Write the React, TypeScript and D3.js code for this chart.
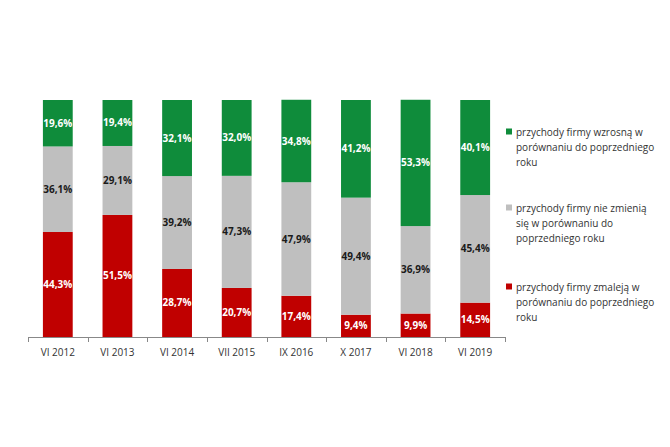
import React from "react";
import * as d3 from "d3";

const categories = ["VI 2012", "VI 2013", "VI 2014", "VII 2015", "IX 2016", "X 2017", "VI 2018", "VI 2019"];
const decrease = [44.3, 51.5, 28.7, 20.7, 17.4, 9.4, 9.9, 14.5];
const noChange = [36.1, 29.1, 39.2, 47.3, 47.9, 49.4, 36.9, 45.4];
const increase = [19.6, 19.4, 32.1, 32.0, 34.8, 41.2, 53.3, 40.1];

const seriesNames = [
  ["przychody firmy wzrosną w", "porównaniu do poprzedniego", "roku"],
  ["przychody firmy nie zmienią", "się w porównaniu do", "poprzedniego roku"],
  ["przychody firmy zmaleją w", "porównaniu do poprzedniego", "roku"],
];
const colors = { inc: "#0f8c3b", same: "#bfbfbf", dec: "#c00000" };

const fmt = (v: number) => v.toFixed(1).replace(".", ",") + "%";

export default function App() {
  const W = 670, H = 447;
  const x = d3.scaleBand().domain(categories).range([28, 505]).paddingInner(0.5).paddingOuter(0.25);
  const y = d3.scaleLinear().domain([0, 100]).range([337, 100]);
  const rows = categories.map((c, i) => ({ c, dec: decrease[i], same: noChange[i], inc: increase[i] }));
  const stack = d3.stack<any>().keys(["dec", "same", "inc"])(rows);
  const step = x.step();
  const font = "'Open Sans', 'Liberation Sans', sans-serif";
  const legendY = [132, 208, 287];
  const legendColors = [colors.inc, colors.same, colors.dec];
  return (
    <svg width={W} height={H} style={{ position: "absolute", left: 0, top: 0 }} fontFamily={font}>
      <rect width={W} height={H} fill="#fff" />
      {stack.map((s) => (
        <g key={s.key}>
          {s.map((d, i) => {
            const y0 = y(d[0]), y1 = y(d[1]);
            const v = d[1] - d[0];
            const xx = x(categories[i])!;
            return (
              <g key={i}>
                <rect x={xx} y={y1} width={x.bandwidth()} height={y0 - y1} fill={(colors as any)[s.key]} />
                <text x={xx + x.bandwidth() / 2} y={(y0 + y1) / 2} dy="0.35em" textAnchor="middle"
                  fontSize={10} fontWeight="bold" fill={s.key === "same" ? "#1a1a1a" : "#fff"}>
                  {fmt(v)}
                </text>
              </g>
            );
          })}
        </g>
      ))}
      <line x1={28} x2={505} y1={337.5} y2={337.5} stroke="#888" />
      {d3.range(categories.length + 1).map((i) => {
        const tx = Math.round(28 + i * step) + 0.5;
        return <line key={i} x1={tx} x2={tx} y1={337} y2={342} stroke="#888" />;
      })}
      {categories.map((c) => (
        <text key={c} x={x(c)! + x.bandwidth() / 2} y={352} dy="0.35em" textAnchor="middle" fontSize={10} fill="#333">
          {c}
        </text>
      ))}
      {seriesNames.map((lines, k) => (
        <g key={k}>
          <rect x={506} y={legendY[k] - 3.5} width={6} height={6} fill={legendColors[k]} />
          {lines.map((l, j) => (
            <text key={j} x={516} y={legendY[k] + j * 15} dy="0.35em" fontSize={10} fill="#333">
              {l}
            </text>
          ))}
        </g>
      ))}
    </svg>
  );
}
